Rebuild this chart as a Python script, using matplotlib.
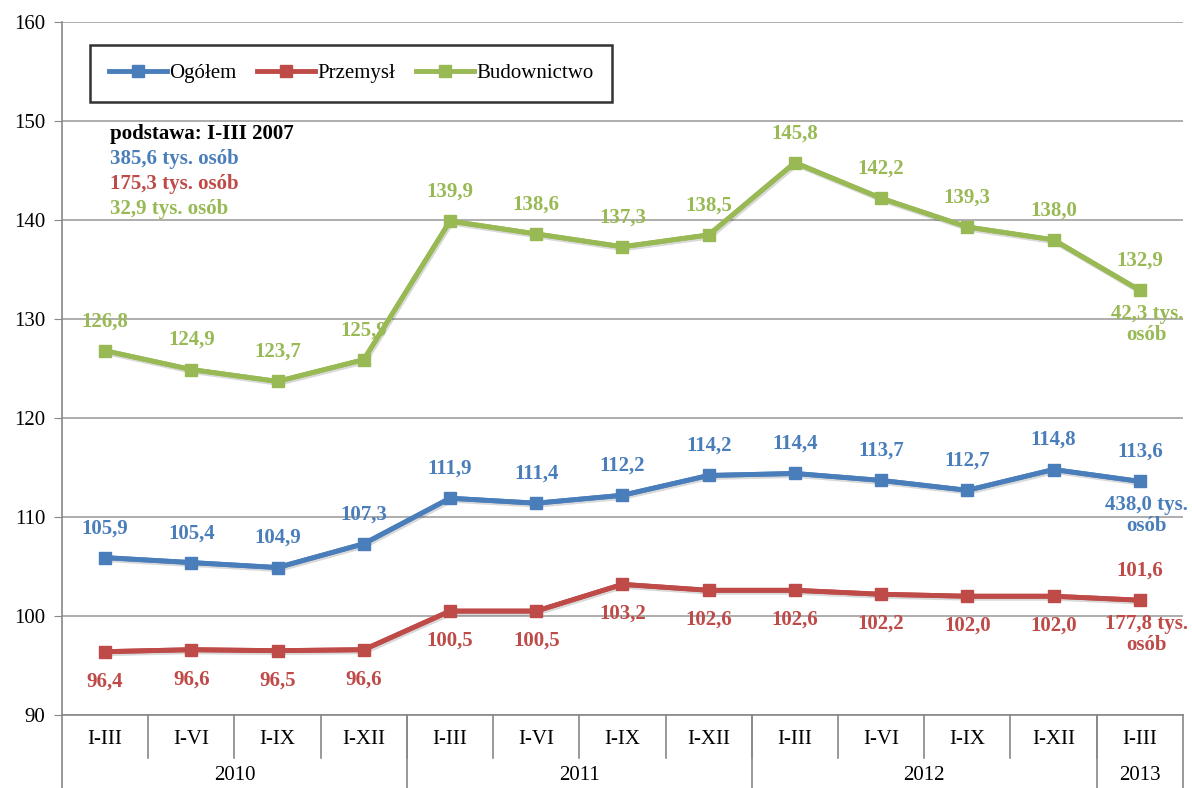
import matplotlib
matplotlib.use("Agg")
import matplotlib.pyplot as plt
import matplotlib.transforms as mtransforms
import matplotlib.patheffects as pe

plt.rcParams['font.family'] = ['Liberation Serif', 'DejaVu Serif']

# dane
okresy = ['I-III', 'I-VI', 'I-IX', 'I-XII', 'I-III', 'I-VI', 'I-IX', 'I-XII',
          'I-III', 'I-VI', 'I-IX', 'I-XII', 'I-III']
lata = ['2010', '2011', '2012', '2013']
lata_n = [4, 4, 4, 1]
ogolem = [105.9, 105.4, 104.9, 107.3, 111.9, 111.4, 112.2, 114.2, 114.4, 113.7, 112.7, 114.8, 113.6]
przemysl = [96.4, 96.6, 96.5, 96.6, 100.5, 100.5, 103.2, 102.6, 102.6, 102.2, 102.0, 102.0, 101.6]
budownictwo = [126.8, 124.9, 123.7, 125.9, 139.9, 138.6, 137.3, 138.5, 145.8, 142.2, 139.3, 138.0, 132.9]
koniec_ogolem = '438,0 tys.\nosób'
koniec_przemysl = '177,8 tys.\nosób'
koniec_budownictwo = '42,3 tys.\nosób'
podstawa = ['385,6 tys. osób', '175,3 tys. osób', '32,9 tys. osób']

c_blue = '#4A7EBB'
c_red = '#BE4B48'
c_green = '#98B954'


def fmt(v):
    return f'{v:.1f}'.replace('.', ',')


def main():
    fig = plt.figure(figsize=(11.92, 7.88), dpi=100)
    ax = fig.add_axes([0.052, 0.0926, 0.9404, 0.8794])

    x = list(range(len(okresy)))
    shadow = [pe.SimpleLineShadow(offset=(1, -1.5), alpha=0.15), pe.Normal()]

    seria = [
        (ogolem, c_blue, 'Ogółem', 'above', koniec_ogolem),
        (przemysl, c_red, 'Przemysł', 'below', koniec_przemysl),
        (budownictwo, c_green, 'Budownictwo', 'above', koniec_budownictwo),
    ]
    for vals, col, name, pos, kon in seria:
        # linia z cieniem, znaczniki osobno
        ax.plot(x, vals, color=col, lw=3.5, path_effects=shadow, zorder=3)
        ax.plot(x, vals, color=col, lw=3.5, marker='s', ms=8, mec=col,
                label=name, zorder=4)
        for i, v in enumerate(vals):
            last = i == len(vals) - 1
            if pos == 'above' or last:
                dy, va = 14, 'bottom'
            else:
                dy, va = -14, 'top'
            ax.annotate(fmt(v), (i, v), xytext=(0, dy), textcoords='offset points',
                        ha='center', va=va, color=col, fontsize=15, fontweight='bold')
        ax.annotate(kon, (x[-1], vals[-1]), xytext=(5, -10), textcoords='offset points',
                    ha='center', va='top', color=col, fontsize=15, fontweight='bold',
                    linespacing=1.05, annotation_clip=False)

    ax.set_xlim(-0.5, len(okresy) - 0.5)
    ax.set_ylim(90, 160)
    ax.set_yticks(range(90, 161, 10))
    ax.tick_params(axis='y', labelsize=15, length=6, color='#888888', pad=6)
    ax.set_xticks([])
    ax.grid(axis='y', color='#A0A0A0', lw=1.2)
    ax.set_axisbelow(True)
    for s in ['top', 'right']:
        ax.spines[s].set_visible(False)
    ax.spines['left'].set_color('#888888')
    ax.spines['bottom'].set_color('#888888')
    ax.spines['left'].set_linewidth(1.2)
    ax.spines['bottom'].set_linewidth(1.2)

    # dwupoziomowa oś X
    tr = mtransforms.blended_transform_factory(ax.transData, ax.transAxes)
    for i, lab in enumerate(okresy):
        ax.text(i, -0.036, lab, transform=tr, ha='center', va='center', fontsize=15)
    for i in range(1, len(okresy)):
        ax.plot([i - 0.5, i - 0.5], [0, -0.062], transform=tr, color='#888888',
                lw=1.2, clip_on=False)
    start = 0
    for rok, n in zip(lata, lata_n):
        ax.text(start + n / 2 - 0.5, -0.087, rok, transform=tr, ha='center',
                va='center', fontsize=15)
        edge = start + n - 0.5
        ax.plot([edge, edge], [0, -0.11], transform=tr, color='#888888',
                lw=1.2, clip_on=False)
        start += n
    ax.plot([-0.5, -0.5], [0, -0.11], transform=tr, color='#888888', lw=1.2, clip_on=False)

    # podstawa
    ax.text(0.043, 0.838, 'podstawa: I-III 2007', transform=ax.transAxes, fontsize=15,
            fontweight='bold', color='black', va='center')
    for k, (t, col) in enumerate(zip(podstawa, [c_blue, c_red, c_green])):
        ax.text(0.043, 0.802 - k * 0.036, t, transform=ax.transAxes, fontsize=15,
                fontweight='bold', color=col, va='center')

    leg = ax.legend(loc='upper left', bbox_to_anchor=(0.025, 0.88, 0.466, 0.087),
                    mode='expand', ncol=3, fontsize=15, frameon=True, fancybox=False,
                    edgecolor='black', handlelength=2.8, handletextpad=0.1,
                    borderaxespad=0, columnspacing=1.0, borderpad=0.9)
    leg.get_frame().set_linewidth(1.8)

    fig.savefig('out.png', dpi=100)


if __name__ == '__main__':
    main()
